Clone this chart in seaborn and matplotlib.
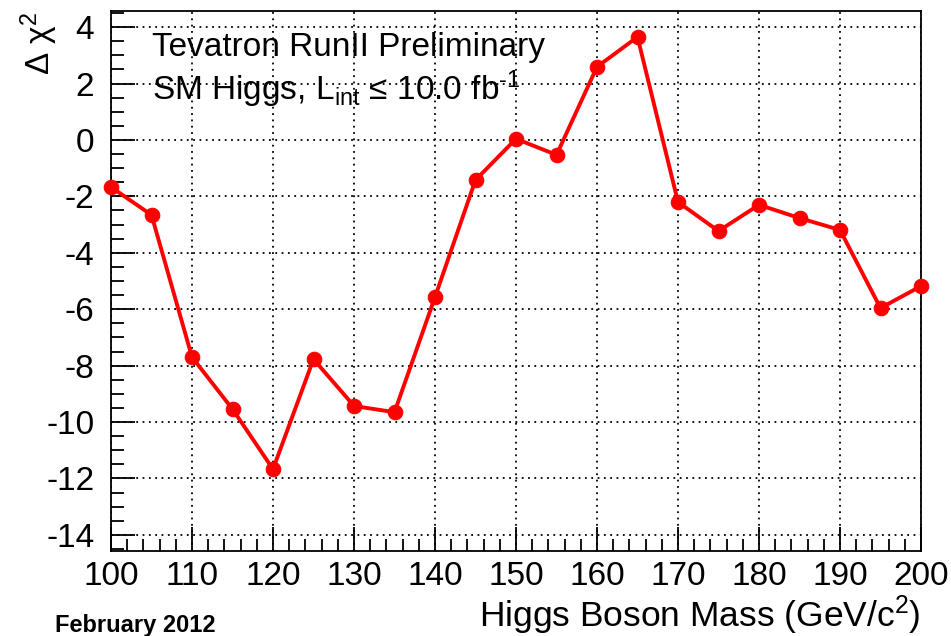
import numpy as np
import pandas as pd
import seaborn as sns
import matplotlib.pyplot as plt
from matplotlib.ticker import MultipleLocator

# Higgs mass points and delta chi2
mass = [100, 105, 110, 115, 120, 125, 130, 135, 140, 145, 150,
        155, 160, 165, 170, 175, 180, 185, 190, 195, 200]
dchi2 = [-1.67, -2.66, -7.70, -9.54, -11.67, -7.77, -9.43, -9.65, -5.57, -1.42, 0.04,
         -0.53, 2.59, 3.65, -2.20, -3.23, -2.30, -2.77, -3.19, -5.96, -5.18]

df = pd.DataFrame({"mass": mass, "dchi2": dchi2})

sns.set_style("white")
plt.rcParams['font.family'] = ['Liberation Sans', 'DejaVu Sans']
plt.rcParams['mathtext.fontset'] = 'custom'
plt.rcParams['mathtext.rm'] = 'Liberation Sans'
plt.rcParams['mathtext.it'] = 'Liberation Sans'
plt.rcParams['axes.unicode_minus'] = False
plt.rcParams['text.color'] = 'black'

fig = plt.figure(figsize=(9.51, 6.36), dpi=100)
ax = fig.add_axes([111/951, 1 - 551/636, 810/951, 540/636])

sns.lineplot(data=df, x="mass", y="dchi2", ax=ax, color="#ff0000", lw=2.8,
             marker="o", markersize=10.5, markeredgecolor="#ff0000", zorder=3, clip_on=False)

ax.set_xlim(100, 200)
ax.set_ylim(-14.57, 4.57)
ax.xaxis.set_major_locator(MultipleLocator(10))
ax.xaxis.set_minor_locator(MultipleLocator(2))
ax.yaxis.set_major_locator(MultipleLocator(2))
ax.yaxis.set_minor_locator(MultipleLocator(0.5))
ax.tick_params(which="both", direction="in", bottom=True, left=True, top=False, right=False,
               width=1.3, colors="black", labelsize=24, labelcolor="black")
ax.tick_params(which="major", length=17)
ax.tick_params(which="minor", length=9)
ax.tick_params(axis="x", pad=7)
ax.tick_params(axis="y", pad=12)
ax.grid(True, which="major", color="black", linestyle=(0, (1, 2.5)), lw=1.3)
for s in ax.spines.values():
    s.set_color("black")
    s.set_linewidth(1.3)

ax.set_xlabel("Higgs Boson Mass (GeV/c$^{2}$)", fontsize=25.5, color="black")
ax.xaxis.label.set_ha("right")
ax.xaxis.label.set_va("baseline")
ax.xaxis.set_label_coords(1.0, -(627 - 551) / 540)
ax.set_ylabel("Δ χ$^{2}$", fontsize=24, color="black")
ax.yaxis.label.set_ha("right")
ax.yaxis.label.set_va("top")
ax.yaxis.set_label_coords(-(111 - 18) / 810, 1 - 1 / 540)

ax.text(152/951, 1 - 56/636, "Tevatron RunII Preliminary", transform=fig.transFigure,
        fontsize=24, va="baseline")
ax.text(152/951, 1 - 100/636, r"SM Higgs, L$_{\mathrm{int}}$ ≤ 10.0 fb$^{\text{-1}}$",
        transform=fig.transFigure, fontsize=24, va="baseline")
fig.text(55/951, 1 - 632/636, "February 2012", fontsize=17, fontweight="bold", va="baseline")

fig.savefig("out.png", dpi=100)
